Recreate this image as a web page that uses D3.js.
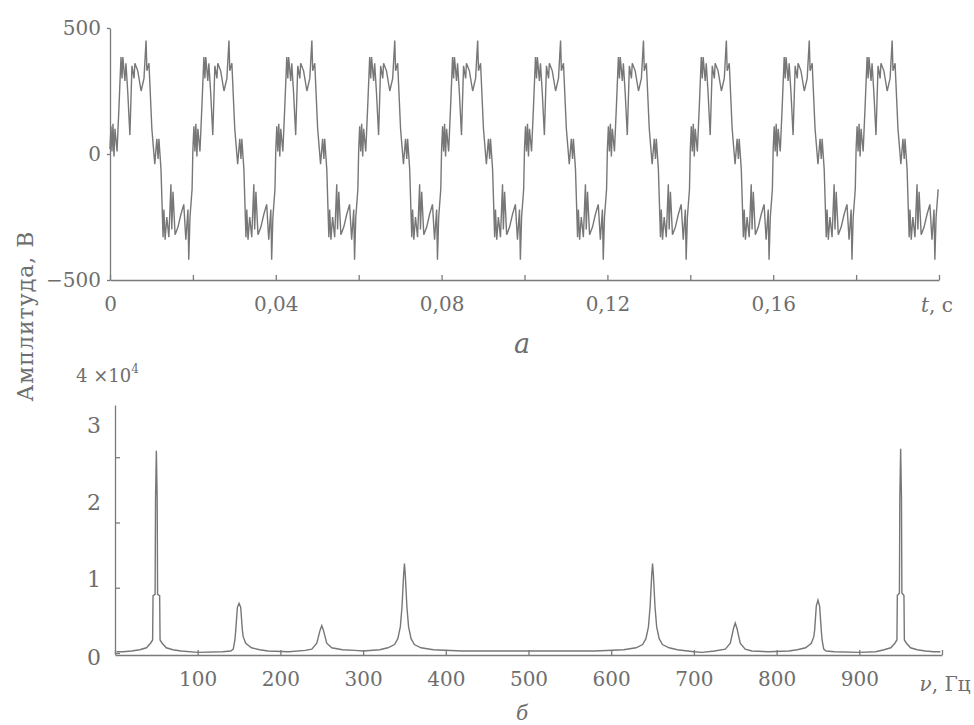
<!DOCTYPE html>
<html>
<head>
<meta charset="utf-8">
<script src="https://cdn.jsdelivr.net/npm/d3@7"></script>
<style>
  body { margin: 0; background: #fff; }
  text { font-family: "DejaVu Serif", "Liberation Serif", serif; fill: #6e6e6e; }
  .axis path, .axis line { stroke: #7a7a7a; stroke-width: 1.3; }
</style>
</head>
<body>
<svg width="974" height="725"></svg>
<script>
// one period (20 ms) of the signal; the plot shows 10 of them
var periodMs = [0, 0.24, 0.48, 0.72, 0.96, 1.2, 1.7, 2.2, 2.65, 2.9, 3.1, 3.6, 3.85, 4.3, 4.8,
    5.3, 5.8, 6.0, 6.7, 7.5, 8.2, 8.7, 8.9, 9.4, 10.1, 10.8, 11.3, 11.6, 11.8, 12.3, 12.8,
    13.0, 13.3, 13.7, 14.2, 14.7, 14.9, 15.2, 15.7, 16.4, 17.1, 17.8, 18.3, 18.8, 19.0, 19.3, 19.8];
var periodV = [20, 110, 10, 120, -10, 100, 10, 200, 385, 300, 385, 290, 360, 240, 75,
    350, 300, 360, 330, 250, 300, 450, 330, 360, 100, -40, 60, -20, 60, -60, -330,
    -220, -340, -250, -330, -120, -300, -150, -320, -290, -240, -200, -340, -220, -420, -250, -140];
var nPeriods = 10;
var timeTicks = [0, 0.02, 0.04, 0.06, 0.08, 0.1, 0.12, 0.14, 0.16, 0.18, 0.2];
var timeLabels = { 0: '0', 0.04: '0,04', 0.08: '0,08', 0.12: '0,12', 0.16: '0,16' };
var voltTicks = [-500, 0, 500];

// spectrum (×10^4)
var specFreq = [2, 10, 20, 30, 38, 43, 45.5, 46, 48.5, 49, 50, 51, 51.5, 54, 54.5, 57, 62, 70, 80,
    100, 130, 140, 143, 145, 146, 148, 150, 152, 154, 155, 158, 165, 175, 185,
    210, 230, 238, 244, 248, 250, 252, 256, 262, 275, 290,
    300, 320, 330, 338, 342, 345, 347, 348, 349, 350, 351, 352, 353, 355, 358, 362, 370, 385, 420,
    500, 580, 615, 630, 638, 642, 645, 647, 648, 649, 650, 651, 652, 653, 655, 658, 662, 670, 680, 700,
    710, 725, 738, 744, 748, 750, 752, 756, 762, 770, 790,
    815, 825, 835, 842, 845, 846, 848, 850, 852, 854, 855, 857, 860, 870, 900,
    920, 930, 938, 943, 945.5, 946, 948.5, 949, 950, 951, 951.5, 954, 954.5, 957, 962, 970, 980, 990, 998];
var specAmp = [0.02, 0.02, 0.03, 0.05, 0.08, 0.15, 0.2, 0.88, 0.9, 2.35, 3.1, 2.35, 0.9, 0.88, 0.2, 0.15, 0.08, 0.05, 0.03,
    0.01, 0.02, 0.03, 0.06, 0.2, 0.35, 0.7, 0.76, 0.7, 0.35, 0.25, 0.15, 0.08, 0.05, 0.03,
    0.02, 0.04, 0.06, 0.15, 0.35, 0.42, 0.35, 0.15, 0.08, 0.05, 0.04,
    0.03, 0.05, 0.08, 0.13, 0.22, 0.4, 0.7, 0.95, 1.2, 1.37, 1.2, 0.95, 0.7, 0.4, 0.22, 0.13, 0.08, 0.05, 0.03,
    0.03, 0.03, 0.05, 0.08, 0.13, 0.22, 0.4, 0.7, 0.95, 1.2, 1.37, 1.2, 0.95, 0.7, 0.4, 0.22, 0.13, 0.08, 0.05, 0.02,
    0.01, 0.03, 0.06, 0.15, 0.38, 0.46, 0.38, 0.15, 0.06, 0.03, 0.02,
    0.03, 0.05, 0.08, 0.15, 0.25, 0.35, 0.72, 0.81, 0.72, 0.35, 0.2, 0.06, 0.03, 0.02, 0.01,
    0.02, 0.05, 0.08, 0.15, 0.2, 0.88, 0.92, 2.38, 3.13, 2.38, 0.92, 0.88, 0.2, 0.15, 0.08, 0.05, 0.03, 0.02, 0.02];
var freqTicks = [0, 100, 200, 300, 400, 500, 600, 700, 800, 900, 1000];
var ampTicks = [0, 1, 2, 3];

var svg = d3.select('svg');

// ---- a: time signal ----
var x = d3.scaleLinear().domain([0, 0.2]).range([110, 939]);
var y = d3.scaleLinear().domain([-500, 500]).range([280, 28]);

var signal = [];
for (var k = 0; k < nPeriods; k++) {
    for (var i = 0; i < periodMs.length; i++) {
        signal.push({ t: k * 0.02 + periodMs[i] / 1000, v: periodV[i] });
    }
}

svg.append('g')
    .attr('class', 'axis')
    .attr('transform', 'translate(0,280)')
    .call(d3.axisBottom(x).tickValues(timeTicks).tickSizeInner(-5).tickSizeOuter(0).tickPadding(17)
        .tickFormat(function (d) { return timeLabels[d] || ''; }))
    .call(function (g) { g.selectAll('text').style('font-size', '20px'); });

svg.append('g')
    .attr('class', 'axis')
    .attr('transform', 'translate(110,0)')
    .call(d3.axisLeft(y).tickValues(voltTicks).tickSizeInner(3).tickSizeOuter(0).tickPadding(6)
        .tickFormat(function (d) { return d < 0 ? '\u2212' + (-d) : d; }))
    .call(function (g) { g.selectAll('text').style('font-size', '20px'); });

svg.append('path')
    .datum(signal)
    .attr('fill', 'none')
    .attr('stroke', '#777')
    .attr('stroke-width', 1.4)
    .attr('d', d3.line().x(function (d) { return x(d.t); }).y(function (d) { return y(d.v); }));

var tl = svg.append('text').attr('x', 937).attr('y', 312).attr('text-anchor', 'middle').style('font-size', '20px');
tl.append('tspan').style('font-style', 'italic').text('t');
tl.append('tspan').text(', c');

svg.append('text').attr('x', 522).attr('y', 353).attr('text-anchor', 'middle')
    .style('font-size', '27px').style('font-style', 'italic').text('a');

// y title
svg.append('text')
    .attr('transform', 'translate(33,316) rotate(-90)')
    .attr('text-anchor', 'middle')
    .style('font-size', '22px')
    .style('letter-spacing', '1px')
    .text('Амплитуда,  В');

// ---- б: spectrum ----
var fx = d3.scaleLinear().domain([0, 1000]).range([115, 942]);
var fy = d3.scaleLinear().domain([0, 3.8]).range([653, 405]);
var labY = d3.scaleLinear().domain([0, 3]).range([657, 425]);

svg.append('g')
    .attr('class', 'axis')
    .attr('transform', 'translate(0,655)')
    .call(d3.axisBottom(fx).tickValues(freqTicks).tickSizeInner(-5).tickSizeOuter(0).tickPadding(17)
        .tickFormat(function (d) { return d > 0 && d < 1000 ? d : ''; }))
    .call(function (g) { g.selectAll('text').style('font-size', '20px'); });

svg.append('g')
    .attr('class', 'axis')
    .attr('transform', 'translate(115,0)')
    .call(d3.axisLeft(fy).tickValues(ampTicks).tickSizeInner(-5).tickSizeOuter(0).tickFormat(''));

svg.append('g').selectAll('text')
    .data(ampTicks)
    .enter().append('text')
    .attr('x', 94)
    .attr('y', function (d) { return labY(d); })
    .attr('dy', '0.35em')
    .attr('text-anchor', 'middle')
    .style('font-size', '22px')
    .text(function (d) { return d; });

var spec = specFreq.map(function (f, i) { return { f: f, a: specAmp[i] }; });
svg.append('path')
    .datum(spec)
    .attr('fill', 'none')
    .attr('stroke', '#777')
    .attr('stroke-width', 1.4)
    .attr('d', d3.line().x(function (d) { return fx(d.f); }).y(function (d) { return fy(d.a); }));

var ex = svg.append('text').attr('x', 76).attr('y', 382).style('font-size', '18px');
ex.append('tspan').text('4 \u00d710');
ex.append('tspan').attr('dy', -9).style('font-size', '12px').text('4');

var nl = svg.append('text').attr('x', 945).attr('y', 691).attr('text-anchor', 'middle').style('font-size', '20px');
nl.append('tspan').style('font-style', 'italic').text('\u03bd');
nl.append('tspan').text(', Гц');

svg.append('text').attr('x', 522).attr('y', 720).attr('text-anchor', 'middle')
    .style('font-size', '20px').style('font-style', 'italic').text('\u0431');
</script>
</body>
</html>
